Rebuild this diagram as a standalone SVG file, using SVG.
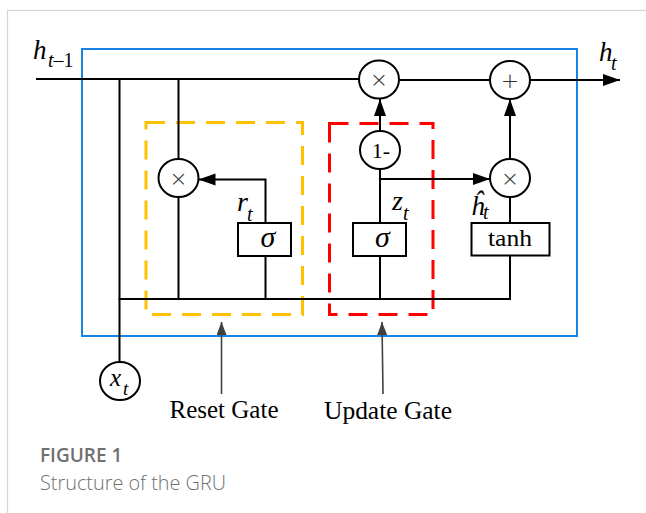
<svg xmlns="http://www.w3.org/2000/svg" width="646" height="513" viewBox="0 0 646 513">
<style>
.ln{stroke:#000;stroke-width:2;fill:none}
.nd{stroke:#000;stroke-width:2;fill:#fff}
.op{font-family:"DejaVu Sans","Liberation Sans",sans-serif;font-weight:200;font-size:22px;fill:#333;text-anchor:middle}
.it{font-family:"Liberation Serif","Times New Roman",serif;font-style:italic;fill:#000}
.rm{font-family:"Liberation Serif","Times New Roman",serif;fill:#000}
.ptr{stroke:#404040;stroke-width:1.6;fill:none}
.cap{font-family:"Open Sans","Noto Sans",sans-serif;fill:#707070}
</style>
<defs>
<marker id="ah" markerUnits="userSpaceOnUse" markerWidth="18" markerHeight="14" refX="17" refY="6" orient="auto">
<path d="M0,0 L17,6 L0,12 z" fill="#000"/>
</marker>
<marker id="ag" markerUnits="userSpaceOnUse" markerWidth="14" markerHeight="12" refX="13" refY="5" orient="auto">
<path d="M0,0 L13,5 L0,10 z" fill="#404040"/>
</marker>
</defs>
<rect x="7.5" y="10.5" width="700" height="600" fill="#fff" stroke="#d6d6d6" stroke-width="1.2"/>
<rect id="cell" x="82" y="49" width="495" height="287" fill="none" stroke="#1584e4" stroke-width="2"/>
<rect id="reset-gate-box" x="146" y="122.5" width="156.5" height="192" fill="none" stroke="#ffc000" stroke-width="3" stroke-dasharray="19,11"/>
<rect id="update-gate-box" x="329.5" y="123.5" width="103.5" height="191" fill="none" stroke="#ff0000" stroke-width="3" stroke-dasharray="19,11"/>
<g id="connectors">
<line class="ln" x1="36" y1="79" x2="359" y2="79"/>
<line class="ln" x1="399" y1="80" x2="490" y2="80"/>
<line class="ln" x1="530" y1="80" x2="620" y2="80" marker-end="url(#ah)"/>
<line class="ln" x1="119.5" y1="79" x2="119.5" y2="361"/>
<line class="ln" x1="178.5" y1="79" x2="178.5" y2="159"/>
<line class="ln" x1="178.5" y1="197" x2="178.5" y2="299"/>
<line class="ln" x1="118.5" y1="299" x2="511" y2="299"/>
<polyline class="ln" points="265.5,223 265.5,179.5 198.5,179.5" marker-end="url(#ah)"/>
<line class="ln" x1="265.5" y1="256" x2="265.5" y2="299"/>
<line class="ln" x1="380" y1="131" x2="380" y2="99" marker-end="url(#ah)"/>
<line class="ln" x1="380" y1="169" x2="380" y2="223"/>
<line class="ln" x1="380" y1="179" x2="490" y2="179" marker-end="url(#ah)"/>
<line class="ln" x1="380" y1="256" x2="380" y2="299"/>
<line class="ln" x1="510" y1="223" x2="510" y2="197"/>
<line class="ln" x1="510" y1="256" x2="510" y2="299"/>
<line class="ln" x1="510" y1="159" x2="510" y2="99" marker-end="url(#ah)"/>
<line class="ptr" x1="221.5" y1="394" x2="221.5" y2="322" marker-end="url(#ag)"/>
<line class="ptr" x1="383" y1="394" x2="382" y2="322" marker-end="url(#ag)"/>
</g>
<g id="mul-top"><ellipse class="nd" cx="379" cy="79.5" rx="20" ry="19"/><text class="op" x="379" y="87">×</text></g>
<g id="add"><ellipse class="nd" cx="510" cy="80" rx="20" ry="19"/><text class="op" x="510" y="88">+</text></g>
<g id="mul-reset"><ellipse class="nd" cx="178.5" cy="178" rx="20" ry="19"/><text class="op" x="178.5" y="185.5">×</text></g>
<g id="one-minus"><ellipse class="nd" cx="380" cy="150" rx="20" ry="19"/><text class="rm" x="381" y="157.5" font-size="22" text-anchor="middle">1-</text></g>
<g id="mul-update"><ellipse class="nd" cx="510" cy="178" rx="20" ry="19"/><text class="op" x="510" y="185.5">×</text></g>
<g id="sigma-r"><rect class="nd" x="238" y="223" width="53" height="33"/><text class="it" x="268" y="247" font-size="30" text-anchor="middle">σ</text></g>
<g id="sigma-z"><rect class="nd" x="353" y="223" width="53" height="33"/><text class="it" x="382.5" y="247" font-size="30" text-anchor="middle">σ</text></g>
<g id="tanh"><rect class="nd" x="471.5" y="223" width="78" height="32.5"/><text class="rm" x="510" y="246" font-size="24" text-anchor="middle" textLength="44" lengthAdjust="spacingAndGlyphs">tanh</text></g>
<g id="xt"><ellipse class="nd" cx="120" cy="381" rx="20" ry="19"/><text class="it" x="110" y="386" font-size="25">x</text><text class="it" x="123" y="395" font-size="19">t</text></g>
<g id="labels">
<text class="it" x="33" y="58.5" font-size="27">h</text>
<text class="it" x="48" y="67" font-size="20">t<tspan font-style="normal">–1</tspan></text>
<text class="it" x="599" y="61" font-size="27">h</text>
<text class="it" x="611" y="70" font-size="20">t</text>
<text class="it" x="237" y="211" font-size="28">r</text>
<text class="it" x="247" y="221" font-size="20">t</text>
<text class="it" x="392" y="210" font-size="28">z</text>
<text class="it" x="403" y="220" font-size="20">t</text>
<text class="it" x="471" y="215" font-size="27">ĥ</text>
<text class="it" x="483" y="219" font-size="20">t</text>
<text class="rm" x="169.5" y="418" font-size="25" textLength="109" lengthAdjust="spacingAndGlyphs">Reset Gate</text>
<text class="rm" x="324" y="418.5" font-size="25" textLength="128" lengthAdjust="spacingAndGlyphs">Update Gate</text>
</g>
<text class="cap" x="40" y="462" font-size="19" font-weight="600">FIGURE 1</text>
<text class="cap" x="40" y="489.5" font-size="20" font-weight="300" textLength="186" lengthAdjust="spacingAndGlyphs">Structure of the GRU</text>
</svg>
